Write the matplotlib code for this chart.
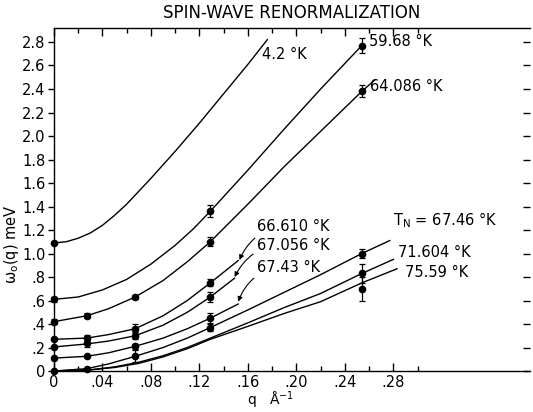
import matplotlib
matplotlib.use('Agg')
import matplotlib.pyplot as plt
import matplotlib.ticker as mticker
from matplotlib.lines import TICKLEFT

plt.rcParams['font.family'] = 'DejaVu Sans'
plt.rcParams['font.size'] = 10.5
plt.rcParams['mathtext.default'] = 'regular'

# q grid of measured points (1/Angstrom)
q_pts = [0, 0.027, 0.067, 0.129, 0.254]

# smooth curves: (q, energy meV)
curve_q = {
    '4.2': [0, 0.01, 0.02, 0.03, 0.04, 0.05, 0.06, 0.07, 0.08, 0.10, 0.12, 0.14, 0.16, 0.176],
    '59.68': [0, 0.02, 0.04, 0.06, 0.08, 0.10, 0.115, 0.129, 0.16, 0.19, 0.22, 0.254],
    '64.086': [0, 0.027, 0.045, 0.067, 0.09, 0.11, 0.129, 0.16, 0.19, 0.22, 0.254, 0.265],
    '66.610': [0, 0.027, 0.045, 0.067, 0.09, 0.11, 0.129, 0.152],
    '67.056': [0, 0.027, 0.045, 0.067, 0.09, 0.11, 0.129, 0.149],
    '67.43': [0, 0.027, 0.045, 0.067, 0.09, 0.11, 0.129, 0.152],
    '67.46': [0, 0.027, 0.045, 0.067, 0.09, 0.11, 0.129, 0.16, 0.19, 0.22, 0.254, 0.277],
    '71.604': [0, 0.03, 0.05, 0.07, 0.09, 0.11, 0.129, 0.16, 0.19, 0.22, 0.254, 0.28],
    '75.59': [0, 0.03, 0.05, 0.07, 0.09, 0.11, 0.129, 0.16, 0.19, 0.22, 0.254, 0.283],
}
curve_w = {
    '4.2': [1.09, 1.10, 1.13, 1.175, 1.24, 1.325, 1.42, 1.53, 1.64, 1.87, 2.11, 2.36, 2.61, 2.82],
    '59.68': [0.61, 0.63, 0.69, 0.78, 0.91, 1.07, 1.21, 1.36, 1.71, 2.06, 2.40, 2.77],
    '64.086': [0.42, 0.47, 0.53, 0.63, 0.77, 0.93, 1.10, 1.42, 1.74, 2.04, 2.38, 2.48],
    '66.610': [0.27, 0.28, 0.31, 0.36, 0.47, 0.60, 0.75, 0.94],
    '67.056': [0.205, 0.23, 0.255, 0.30, 0.39, 0.50, 0.63, 0.79],
    '67.43': [0.11, 0.125, 0.155, 0.21, 0.28, 0.36, 0.45, 0.57],
    '67.46': [0, 0.02, 0.06, 0.125, 0.20, 0.28, 0.37, 0.52, 0.67, 0.82, 1.00, 1.11],
    '71.604': [0, 0.01, 0.035, 0.075, 0.13, 0.20, 0.28, 0.41, 0.54, 0.66, 0.83, 0.95],
    '75.59': [0, 0.01, 0.03, 0.065, 0.12, 0.19, 0.27, 0.38, 0.49, 0.59, 0.75, 0.87],
}

# measured points: index into q_pts, value, error
point_idx = {
    '4.2': [0],
    '59.68': [0, 3, 4],
    '64.086': [0, 1, 2, 3, 4],
    '66.610': [0, 1, 2, 3],
    '67.056': [0, 1, 2, 3],
    '67.43': [0, 1, 2, 3],
    '67.46': [0, 1, 2, 3, 4],
    '71.604': [4],
    '75.59': [4],
}
point_w = {
    '4.2': [1.09],
    '59.68': [0.61, 1.36, 2.77],
    '64.086': [0.42, 0.47, 0.63, 1.10, 2.38],
    '66.610': [0.27, 0.28, 0.36, 0.75],
    '67.056': [0.205, 0.235, 0.30, 0.63],
    '67.43': [0.11, 0.13, 0.21, 0.45],
    '67.46': [0.0, 0.02, 0.125, 0.37, 1.00],
    '71.604': [0.83],
    '75.59': [0.70],
}
point_err = {
    '4.2': [0],
    '59.68': [0.02, 0.05, 0.06],
    '64.086': [0.02, 0.02, 0.02, 0.04, 0.05],
    '66.610': [0.0, 0.03, 0.04, 0.03],
    '67.056': [0.0, 0.03, 0.03, 0.04],
    '67.43': [0.0, 0.0, 0.02, 0.04],
    '67.46': [0.0, 0.0, 0.05, 0.03, 0.04],
    '71.604': [0.08],
    '75.59': [0.10],
}

xtick_vals = [0, 0.04, 0.08, 0.12, 0.16, 0.20, 0.24, 0.28]
xtick_labels = ['0', '.04', '.08', '.12', '.16', '.20', '.24', '.28']
xminor_vals = [0.02, 0.06, 0.10, 0.14, 0.18, 0.22, 0.26, 0.30]
ytick_vals = [0, 0.2, 0.4, 0.6, 0.8, 1.0, 1.2, 1.4, 1.6, 1.8, 2.0, 2.2, 2.4, 2.6, 2.8]
ytick_labels = ['0', '.2', '.4', '.6', '.8', '1.0', '1.2', '1.4', '1.6', '1.8',
                '2.0', '2.2', '2.4', '2.6', '2.8']

fig = plt.figure(figsize=(5.33, 4.12), dpi=100)
ax = fig.add_axes([0.1013, 0.0995, 0.893, 0.8325])

for key in curve_q:
    ax.plot(curve_q[key], curve_w[key], color='black', lw=1.0)
    qs = [q_pts[i] for i in point_idx[key]]
    ax.errorbar(qs, point_w[key], yerr=point_err[key], fmt='o', color='black',
                ms=4.5, elinewidth=0.9, capsize=2.2, capthick=0.9, clip_on=False,
                zorder=3)

# plain labels
plain_labels = [
    ('4.2 °K', 0.1716, 2.69),
    ('59.68 °K', 0.2595, 2.80),
    ('64.086 °K', 0.2605, 2.42),
    ('T$_N$ = 67.46 °K', 0.2797, 1.28),
    ('71.604 °K', 0.284, 1.005),
    ('75.59 °K', 0.2896, 0.835),
]
for txt, x, y in plain_labels:
    ax.text(x, y, txt, ha='left', va='center', fontsize=10.5)

# labels with curved arrows
arrow_labels = [
    ('66.610 °K', (0.1675, 1.226), (0.153, 0.945)),
    ('67.056 °K', (0.1675, 1.072), (0.149, 0.80)),
    ('67.43 °K', (0.1675, 0.885), (0.152, 0.59)),
]
for txt, xyt, xy in arrow_labels:
    ax.annotate(txt, xy=xy, xytext=xyt, ha='left', va='center', fontsize=10.5,
                arrowprops=dict(arrowstyle='-|>', connectionstyle='arc3,rad=0.35',
                                lw=0.8, color='black', mutation_scale=7,
                                shrinkA=1, shrinkB=0))

ax.set_xlim(0, 0.3927)
ax.set_ylim(0, 2.919)

ax.xaxis.set_major_locator(mticker.FixedLocator(xtick_vals))
ax.xaxis.set_major_formatter(mticker.FixedFormatter(xtick_labels))
ax.xaxis.set_minor_locator(mticker.FixedLocator(xminor_vals))
ax.yaxis.set_major_locator(mticker.FixedLocator(ytick_vals))
ax.yaxis.set_major_formatter(mticker.FixedFormatter(ytick_labels))

ax.tick_params(axis='x', which='major', direction='in', length=6, width=1.0,
               top=True, pad=3, labelsize=10.5)
ax.tick_params(axis='x', which='minor', direction='in', length=3.5, width=1.0, top=True)
ax.tick_params(axis='y', which='major', direction='out', length=4, width=1.0,
               right=True, pad=2, labelsize=10.5)
ax.spines['right'].set_visible(False)
for side in ['left', 'bottom', 'top']:
    ax.spines[side].set_linewidth(1.0)

# right-hand ticks point inward
for t in ax.yaxis.get_major_ticks():
    t.tick2line.set_marker(TICKLEFT)
    t.tick2line.set_markersize(5)

ax.set_ylabel(r'$\omega_o$(q) meV', fontsize=10.5)
ax.yaxis.set_label_coords(-0.07, 0.37)
ax.set_xlabel(r'q   $\AA^{-1}$', fontsize=10)
ax.xaxis.set_label_coords(0.455, -0.056)
ax.set_title('SPIN-WAVE RENORMALIZATION', fontsize=12, pad=7)

fig.savefig('out.png', dpi=100)
